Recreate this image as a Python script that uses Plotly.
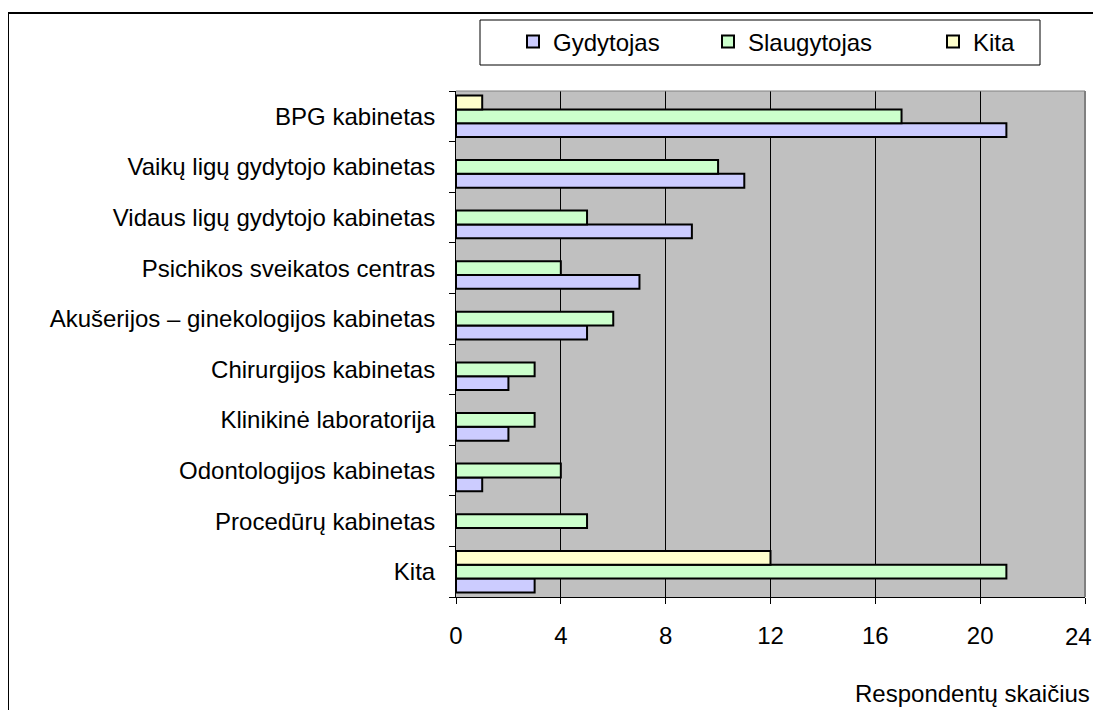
import plotly.graph_objects as go

categories = [
    "BPG kabinetas",
    "Vaikų ligų gydytojo kabinetas",
    "Vidaus ligų gydytojo kabinetas",
    "Psichikos sveikatos centras",
    "Akušerijos – ginekologijos kabinetas",
    "Chirurgijos kabinetas",
    "Klinikinė laboratorija",
    "Odontologijos kabinetas",
    "Procedūrų kabinetas",
    "Kita",
]
gydytojas = [21, 11, 9, 7, 5, 2, 2, 1, None, 3]
slaugytojas = [17, 10, 5, 4, 6, 3, 3, 4, 5, 21]
kita = [1, None, None, None, None, None, None, None, None, 12]
series_names = ["Gydytojas", "Slaugytojas", "Kita"]
series_colors = ["#CCCCFF", "#CCFFCC", "#FFFFCC"]
x_ticks = [0, 4, 8, 12, 16, 20, 24]
x_title = "Respondentų skaičius"

# figure sits inside the page body (8px default margin)
W, H = 1085, 702
L, R, T, B = 448, 1077, 83, 589

def px(x):
    return (x - L) / (R - L)

def py(y):
    return (B - y) / (B - T)

FONT = "Liberation Sans, Arial, sans-serif"
FS = 24

legend_ids = ["legend", "legend2", "legend3"]
legend_x = [505, 700, 925]

fig = go.Figure()
for name, vals, col, lid in zip(series_names, [gydytojas, slaugytojas, kita], series_colors, legend_ids):
    fig.add_trace(go.Bar(
        y=categories, x=vals, name=name, orientation="h",
        marker=dict(color=col, line=dict(color="black", width=2)),
        legend=lid,
    ))

legend_common = dict(
    orientation="h", xanchor="left", yanchor="middle",
    bgcolor="rgba(0,0,0,0)", borderwidth=0,
    font=dict(family=FONT, size=FS, color="black"),
)
legends = {}
for lid, lx in zip(legend_ids, legend_x):
    legends[lid] = dict(legend_common, x=px(lx), y=py(34))

# last tick label is drawn as an annotation at x=24, nudged left so it stays inside the page
main_text = [str(t) for t in x_ticks[:-1]] + [""]

fig.update_layout(
    width=W, height=H,
    margin=dict(l=L, r=W - R, t=T, b=H - B, pad=0),
    paper_bgcolor="white",
    plot_bgcolor="#C0C0C0",
    barmode="group",
    bargap=0.18,
    bargroupgap=0,
    font=dict(family=FONT, size=FS, color="black"),
    showlegend=True,
    xaxis=dict(
        range=[0, 24], tickvals=x_ticks, ticktext=main_text,
        showgrid=True, gridcolor="black", gridwidth=1,
        showline=True, linecolor="black", linewidth=1,
        ticks="outside", ticklen=6, tickcolor="black", tickwidth=1,
        zeroline=False, ticklabelstandoff=11,
        tickfont=dict(family=FONT, size=FS),
    ),
    yaxis=dict(
        type="category", categoryorder="array", categoryarray=categories[::-1],
        showline=True, linecolor="black", linewidth=1,
        ticks="outside", ticklen=6, tickcolor="black", tickson="boundaries",
        showgrid=False, zeroline=False, ticklabelstandoff=15,
        tickfont=dict(family=FONT, size=FS),
    ),
    shapes=[
        dict(type="line", xref="paper", yref="paper", x0=0, x1=1, y0=1, y1=1,
             line=dict(color="#808080", width=1)),
        dict(type="line", xref="paper", yref="paper", x0=1, x1=1, y0=0, y1=1,
             line=dict(color="#808080", width=2)),
        dict(type="rect", xref="paper", yref="paper",
             x0=px(472), x1=px(1032), y0=py(57), y1=py(12),
             line=dict(color="black", width=1), fillcolor="rgba(0,0,0,0)"),
        dict(type="rect", xref="paper", yref="paper",
             x0=px(0), x1=px(1120), y0=py(740), y1=py(5),
             line=dict(color="black", width=2), fillcolor="rgba(0,0,0,0)"),
    ],
    annotations=[
        dict(text=x_title, xref="paper", yref="paper", x=px(1084), y=py(685),
             xanchor="right", yanchor="middle", showarrow=False,
             font=dict(family=FONT, size=FS, color="black")),
        dict(text=str(x_ticks[-1]), xref="x", yref="paper", x=x_ticks[-1], y=py(628),
             xanchor="center", yanchor="middle", xshift=-7, showarrow=False,
             font=dict(family=FONT, size=FS, color="black")),
    ],
    **legends,
)

fig.write_html("out.html", config={"displayModeBar": False})
